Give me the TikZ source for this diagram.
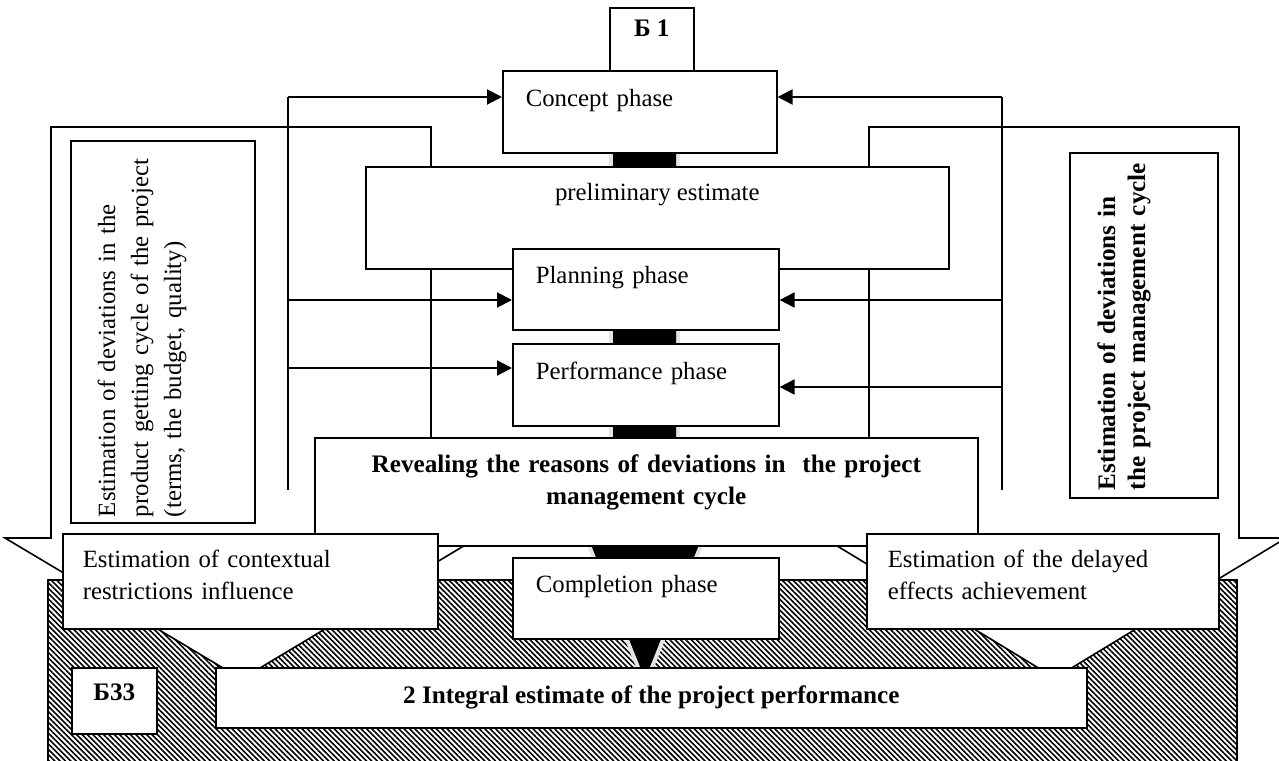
\documentclass[tikz,border=0pt]{standalone}
\usepackage{fontspec}
\setmainfont{Liberation Serif}
\usetikzlibrary{arrows.meta,patterns.meta}
\tikzset{
  box/.style={draw, fill=white, line width=.8pt, inner ysep=0pt},
  phasebox/.style={box, anchor=north west, align=left, inner xsep=11.5pt, text width=110pt, text height=17.5pt, text depth=23pt},
  estbox/.style={box, anchor=north west, align=left, inner xsep=10pt, text height=17pt, text depth=30.5pt, font=\fontsize{12.4}{16}\selectfont},
  rotbox/.style={box, rotate=90, align=left},
  bold/.style={font=\fontsize{12.6}{16}\selectfont\bfseries},
  feed/.style={line width=1pt}
}
\begin{document}
\begin{tikzpicture}[x=0.5pt, y=-0.5pt, line width=.8pt, line join=miter, >={Triangle[length=7.5pt,width=7.5pt]}, font=\fontsize{12.4}{16.5}\selectfont]
	\useasboundingbox (0,0) rectangle (1279,760);
	% hatched base
	\draw[line width=.6pt, pattern={Lines[angle=-45,distance=1.9pt,line width=.8pt]}] (48,580) rectangle (1237,762);
	% two callouts
	\draw[fill=white] (51,127) -- (431,127) -- (431,538) -- (477,538) -- (241.5,679) -- (5,538) -- (51,538) -- cycle;
	\draw[fill=white] (869,127) -- (1239,127) -- (1239,538) -- (1286,538) -- (1055,678) -- (824,538) -- (869,538) -- cycle;
	% black spine arrow
	\path[fill=black, preaction={draw=black!10, line width=4pt}] (613,140) -- (676,140) -- (676,500) -- (717,500) -- (645,679) -- (573,500) -- (613,500) -- cycle;
	% boxes
	\node[box, anchor=north west, minimum width=291.5pt, text height=17pt, text depth=34pt] (prelim) at (365,166) {preliminary estimate};
	\node[phasebox, text width=114pt, text height=18pt] (concept) at (502,70) {Concept phase};
	\node[box, bold, anchor=north west, minimum width=42pt, text height=14.5pt, text depth=17pt] (b1) at (609,7) {Б 1};
	\node[phasebox] (plan) at (512,248) {Planning phase};
	\node[phasebox, text height=18pt] (perf) at (512,343) {Performance phase};
	\node[box, bold, anchor=north west, align=center, text width=325pt, inner xsep=3.25pt, text height=17.5pt, text depth=36.5pt] (reveal) at (314,437) {Revealing the reasons of deviations in~ the project\\management cycle};
	\node[phasebox] (compl) at (512,557) {Completion phase};
	\node[estbox, text width=167.5pt] (context) at (62,533) {Estimation of contextual\\restrictions influence};
	\node[estbox, text width=155pt, inner xsep=10.5pt] (delay) at (866,533) {Estimation of the delayed\\effects achievement};
	\node[box, bold, anchor=north west, minimum width=435.5pt, minimum height=30pt] (integral) at (215,667) {2 Integral estimate of the project performance};
	\node[box, bold, anchor=north west, minimum width=42.5pt, text height=16.5pt, text depth=16.5pt] (b33) at (71,667) {Б33};
	\node[rotbox, text width=185pt, inner xsep=3pt, text height=22pt, text depth=70pt] (devprod) at (163,332) {Estimation of deviations in the\\product getting cycle of the project\\(terms, the budget, quality)};
	\node[rotbox, text width=164.5pt, inner xsep=4pt, text height=22.5pt, text depth=51.5pt, font=\fontsize{12.6}{15}\selectfont\bfseries] (devman) at (1144,325.5) {Estimation of deviations in\\the project management cycle};
	% feedback lines
	\coordinate (lt) at (288,97); \coordinate (lb) at (288,490);
	\coordinate (lp) at (288,300); \coordinate (lf) at (288,368);
	\coordinate (rt) at (1002,97); \coordinate (rb) at (1002,490);
	\coordinate (rp) at (1002,300); \coordinate (rf) at (1002,387);
	\draw[feed] (lt) -- (lb);
	\draw[feed] (rt) -- (rb);
	\draw[feed,->] (lt) -- (lt -| concept.west);
	\draw[feed,->] (lp) -- (lp -| plan.west);
	\draw[feed,->] (lf) -- (lf -| perf.west);
	\draw[feed,->] (rt) -- (rt -| concept.east);
	\draw[feed,->] (rp) -- (rp -| plan.east);
	\draw[feed,->] (rf) -- (rf -| perf.east);
\end{tikzpicture}
\end{document}
